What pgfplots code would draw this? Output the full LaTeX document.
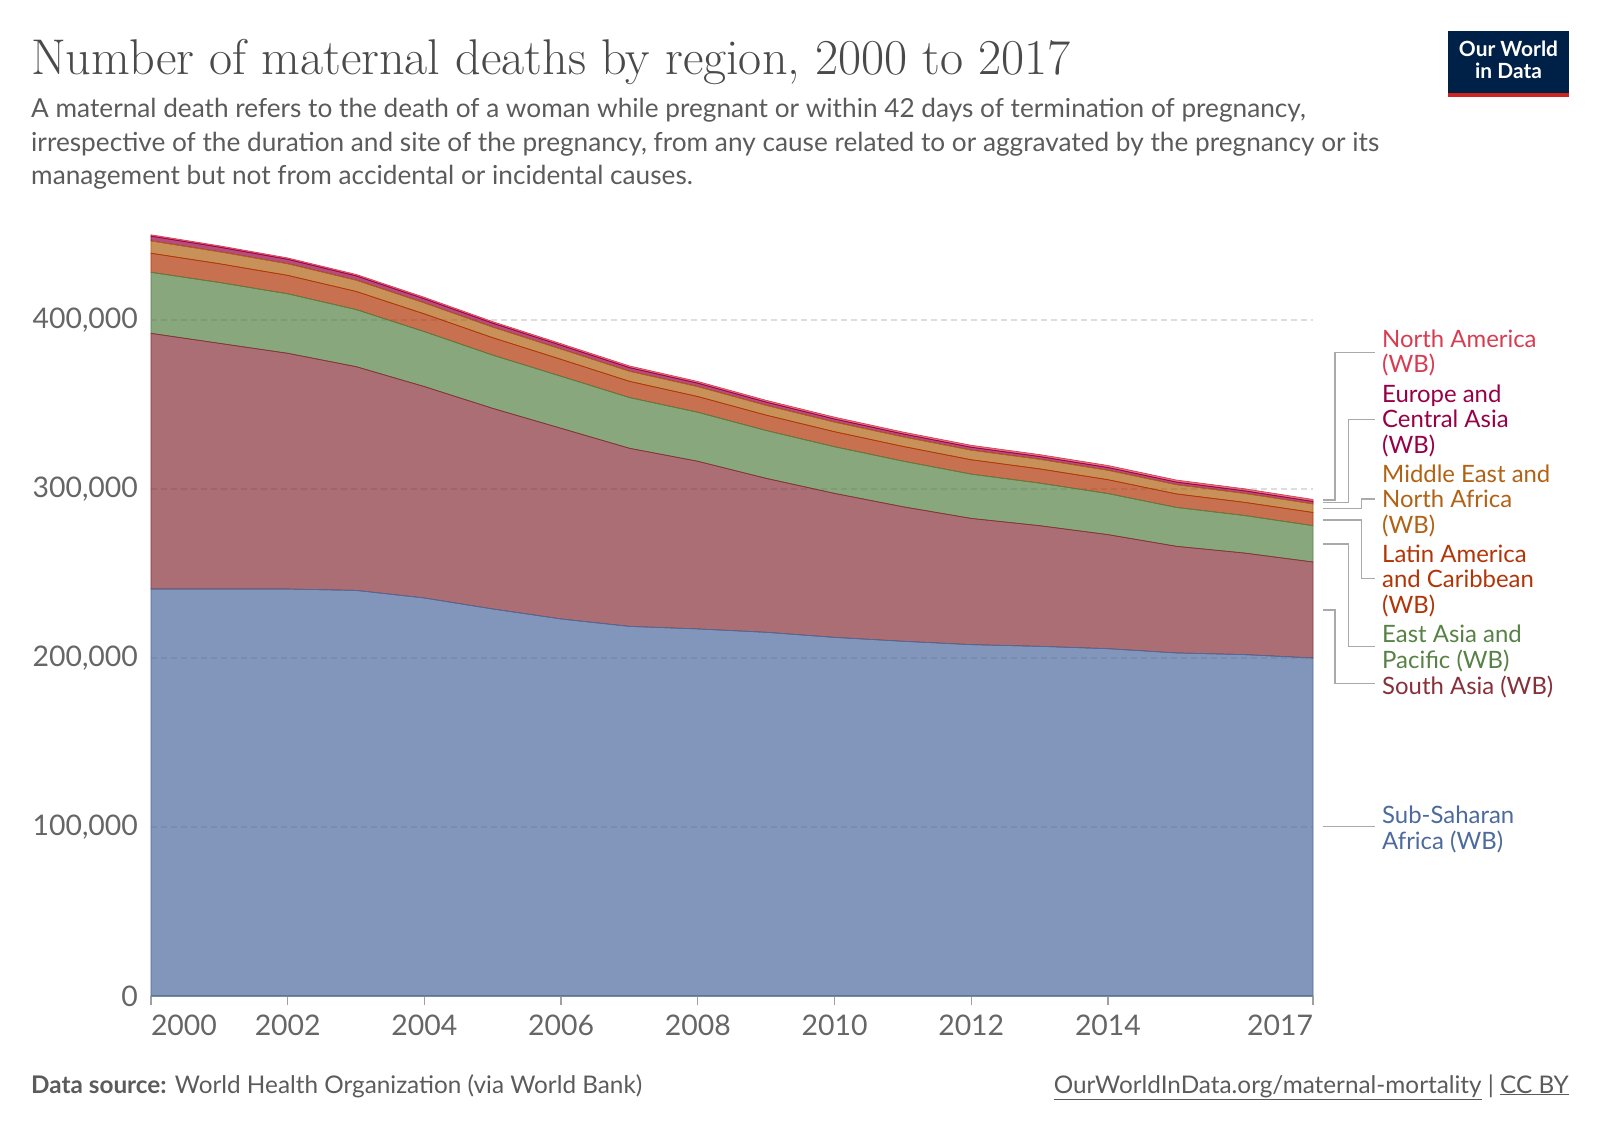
\documentclass[border=0pt]{standalone}
\usepackage{pgfplots}
\pgfplotsset{compat=1.18}
\usepackage{pgfplotstable}
\usepackage{fontspec}
\setsansfont{Lato}
\definecolor{ssa}{HTML}{4C6A9C}
\definecolor{sa}{HTML}{883039}
\definecolor{eap}{HTML}{578145}
\definecolor{lac}{HTML}{B13507}
\definecolor{mena}{HTML}{B16214}
\definecolor{eca}{HTML}{970046}
\definecolor{na}{HTML}{D73C50}
\definecolor{gridc}{HTML}{DDDDDD}
\definecolor{axisgray}{HTML}{A0A0A0}
\definecolor{ticktext}{HTML}{666666}
\definecolor{titlec}{HTML}{4A4A4A}
\definecolor{subc}{HTML}{5B5B5B}
\definecolor{leader}{HTML}{AAAAAA}
\definecolor{owidblue}{HTML}{002147}
\definecolor{owidred}{HTML}{CE261E}

\pgfplotstableread{
year ssa sa eap lac mena eca na
2000 240800 151300 36100 11300 7300 2800 800
2001 240800 145400 36000 11100 7100 2700 800
2002 240800 139500 35200 10900 6900 2600 800
2003 240000 132400 33800 10700 6700 2500 850
2004 235500 125100 32500 10500 6500 2400 900
2005 229000 118700 31500 10300 6300 2300 900
2006 223100 112800 30800 10000 6100 2200 950
2007 218700 105400 30000 9600 6000 2100 1000
2008 217200 99200 29000 9300 5900 2000 1000
2009 215200 91100 28300 9100 5800 1900 1050
2010 212200 85200 27600 8900 5700 1800 1100
2011 209900 79600 27000 8700 5700 1700 1100
2012 207900 74700 26200 8500 5700 1700 1150
2013 206900 71400 25200 8400 5700 1600 1150
2014 205500 67500 24300 8200 5600 1600 1200
2015 203000 63100 23000 8000 5500 1500 1200
2016 202000 60100 22200 7800 5300 1500 1200
2017 200000 56800 21500 7800 5100 1400 1200
}\data

\newcommand{\lab}{\sffamily\fontsize{24}{25.4}\selectfont}

\begin{document}
\begin{tikzpicture}[x=1bp,y=1bp]
\path[use as bounding box] (0,0) rectangle (1600,1130);

% title and subtitle
\node[anchor=base west, inner sep=0, text=titlec, font=\rmfamily\fontsize{50.4}{54}\selectfont] at (31,1055) {Number of maternal deaths by region, 2000 to 2017};
\begin{scope}[every node/.style={anchor=base west, inner sep=0, text=subc, font=\sffamily\fontsize{26.3}{30}\selectfont}]
\node at (31,1012) {A maternal death refers to the death of a woman while pregnant or within 42 days of termination of pregnancy,};
\node at (31,978.5) {irrespective of the duration and site of the pregnancy, from any cause related to or aggravated by the pregnancy or its};
\node at (31,945) {management but not from accidental or incidental causes.};
\end{scope}

% logo
\fill[owidblue] (1448,1033) rectangle (1569,1099);
\fill[owidred] (1448,1033) rectangle (1569,1037);
\node[anchor=base, inner sep=0, text=white, font=\sffamily\bfseries\fontsize{21}{24}\selectfont] at (1508.5,1073) {Our World};
\node[anchor=base, inner sep=0, text=white, font=\sffamily\bfseries\fontsize{21}{24}\selectfont] at (1508.5,1051) {in Data};

% footer
\node[anchor=base west, inner sep=0, text=subc, font=\sffamily\fontsize{24.4}{28}\selectfont] at (31,37) {\textbf{Data source:} World Health Organization (via World Bank)};
\node[anchor=base east, inner sep=0, text=subc, font=\sffamily\fontsize{24.4}{28}\selectfont] at (1569,37) {\underline{OurWorldInData.org/maternal-mortality} | \underline{CC BY}};

\begin{axis}[
  at={(151bp,134bp)}, anchor=south west,
  scale only axis, width=1162bp, height=760.5bp,
  xmin=2000, xmax=2017, ymin=0, ymax=450000,
  clip=false,
  stack plots=y,
  axis x line*=bottom, axis y line*=left,
  y axis line style={draw=none},
  x axis line style={color=axisgray, line width=1.3bp},
  xtick={2000,2002,2004,2006,2008,2010,2012,2014,2017},
  xticklabels={\makebox[0pt][l]{2000},2002,2004,2006,2008,2010,2012,2014,\makebox[0pt][r]{2017}},
  x tick style={color=axisgray, line width=1.3bp},
  tick align=outside, major tick length=9bp,
  ytick={0,100000,200000,300000,400000},
  y tick style={draw=none},
  scaled y ticks=false,
  /pgf/number format/fixed,
  /pgf/number format/assume math mode=true,
  /pgf/number format/1000 sep={,},
  ticklabel style={font=\sffamily\fontsize{28.5}{30}\selectfont, text=ticktext},
  yticklabel style={anchor=east, inner sep=0pt, xshift=-4bp},
  xticklabel style={anchor=north, inner sep=0pt, yshift=-10bp},
  ymajorgrids,
  grid style={color=gridc, line width=1.3bp, dash pattern=on 6bp off 4bp},
  every axis plot/.append style={fill opacity=0.7, line width=0.7bp},
]
\addplot[fill=ssa, draw=ssa] table[x=year, y=ssa]{\data} \closedcycle;
\addplot[fill=sa, draw=sa] table[x=year, y=sa]{\data} \closedcycle;
\addplot[fill=eap, draw=eap] table[x=year, y=eap]{\data} \closedcycle;
\addplot[fill=lac, draw=lac] table[x=year, y=lac]{\data} \closedcycle;
\addplot[fill=mena, draw=mena] table[x=year, y=mena]{\data} \closedcycle;
\addplot[fill=eca, draw=eca] table[x=year, y=eca]{\data} \closedcycle;
\addplot[fill=na, draw=na] table[x=year, y=na]{\data} \closedcycle;
\end{axis}

% leader lines
\begin{scope}[leader, line width=1.3bp]
\draw (1323,630) -- (1335,630) -- (1335,777.7) -- (1375,777.7);
\draw (1323,627.3) -- (1348.3,627.3) -- (1348.3,710.7) -- (1375,710.7);
\draw (1323,621.7) -- (1361.7,621.7) -- (1361.7,631) -- (1375,631);
\draw (1323,610) -- (1361.7,610) -- (1361.7,551.7) -- (1375,551.7);
\draw (1323,586) -- (1348.3,586) -- (1348.3,483.3) -- (1375,483.3);
\draw (1323,520) -- (1335,520) -- (1335,446.7) -- (1375,446.7);
\draw (1323,303.3) -- (1375,303.3);
\end{scope}

% labels (anchor at baseline of last line)
\begin{scope}[every node/.style={anchor=base west, inner sep=0, align=left, font=\lab}]
\node[text=na] at (1382,757) {North America\\(WB)};
\node[text=eca] at (1382,676.7) {Europe and\\Central Asia\\(WB)};
\node[text=mena] at (1382,596.7) {Middle East and\\North Africa\\(WB)};
\node[text=lac] at (1382,516.7) {Latin America\\and Caribbean\\(WB)};
\node[text=eap] at (1382,461.7) {East Asia and\\Pacific (WB)};
\node[text=sa] at (1382,435) {South Asia (WB)};
\node[text=ssa] at (1382,281) {Sub-Saharan\\Africa (WB)};
\end{scope}
\end{tikzpicture}
\end{document}
